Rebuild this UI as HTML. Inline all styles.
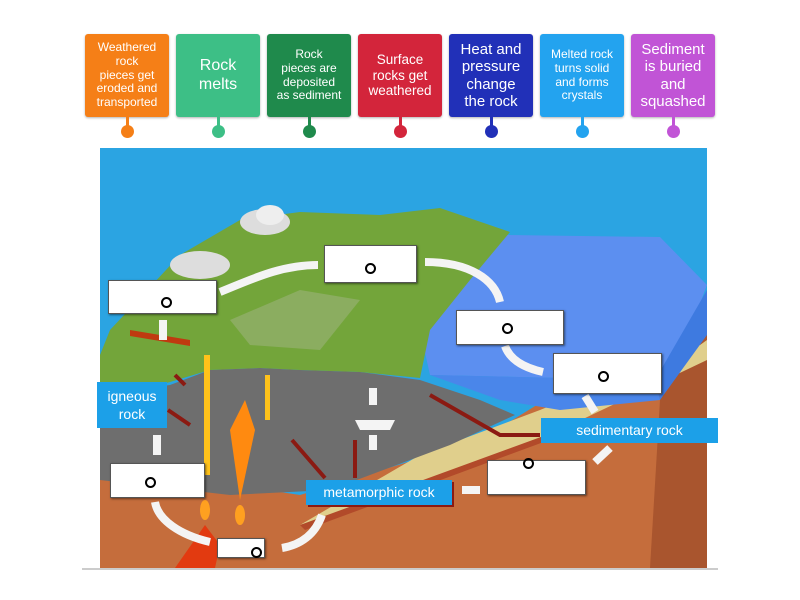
<!DOCTYPE html>
<html><head><meta charset="utf-8"><style>
body{margin:0;width:800px;height:600px;background:#fff;position:relative;overflow:hidden;font-family:"Liberation Sans",sans-serif}
.tag{position:absolute;top:34px;width:84px;height:83px;border-radius:3px;color:#fff;display:flex;align-items:center;justify-content:center;text-align:center;line-height:1.15;box-shadow:0 1px 2px rgba(0,0,0,.3);white-space:nowrap}
.stem{position:absolute;top:117px;width:3px;height:10px;margin-left:40.5px}
.dot{position:absolute;top:125px;width:13px;height:13px;border-radius:50%;margin-left:35.5px}
.box{position:absolute;background:#fff;border:1px solid #555;box-shadow:1px 1px 2px rgba(0,0,0,.5)}
.o{position:absolute;width:7px;height:7px;border:2px solid #000;border-radius:50%}
.lab{position:absolute;background:#1ca0e8;color:#fff;display:flex;align-items:center;justify-content:center;text-align:center;font-size:14px;line-height:1.3}
</style></head><body>
<div class="tag" style="left:85px;background:#f57f17;font-size:12px">Weathered<br>rock<br>pieces get<br>eroded and<br>transported</div>
<div class="tag" style="left:176px;background:#3dbf86;font-size:16px">Rock<br>melts</div>
<div class="tag" style="left:267px;background:#1f8a4c;font-size:12px">Rock<br>pieces are<br>deposited<br>as sediment</div>
<div class="tag" style="left:358px;background:#d3253b;font-size:13.5px">Surface<br>rocks get<br>weathered</div>
<div class="tag" style="left:449px;background:#2130b8;font-size:15px">Heat and<br>pressure<br>change<br>the rock</div>
<div class="tag" style="left:540px;background:#23a3ef;font-size:12px">Melted rock<br>turns solid<br>and forms<br>crystals</div>
<div class="tag" style="left:631px;background:#c154d6;font-size:15px">Sediment<br>is buried<br>and<br>squashed</div>
<div class="stem" style="left:85px;background:#f57f17"></div><div class="dot" style="left:85px;background:#f57f17"></div>
<div class="stem" style="left:176px;background:#3dbf86"></div><div class="dot" style="left:176px;background:#3dbf86"></div>
<div class="stem" style="left:267px;background:#1f8a4c"></div><div class="dot" style="left:267px;background:#1f8a4c"></div>
<div class="stem" style="left:358px;background:#d3253b"></div><div class="dot" style="left:358px;background:#d3253b"></div>
<div class="stem" style="left:449px;background:#2130b8"></div><div class="dot" style="left:449px;background:#2130b8"></div>
<div class="stem" style="left:540px;background:#23a3ef"></div><div class="dot" style="left:540px;background:#23a3ef"></div>
<div class="stem" style="left:631px;background:#c154d6"></div><div class="dot" style="left:631px;background:#c154d6"></div>

<svg style="position:absolute;left:0;top:0" width="800" height="600">
<rect x="100" y="148" width="607" height="420" fill="#2ba4e2"/>
<polygon points="100,465 300,495 480,440 707,300 707,568 100,568" fill="#c56d3c"/>
<polygon points="660,400 707,330 707,568 650,568" fill="#a9552e"/>
<polygon points="420,455 540,410 700,345 707,340 707,360 560,430 330,520 300,525" fill="#e0cf8c"/>
<polygon points="300,525 560,430 560,436 305,530" fill="#b24a2a"/>
<polygon points="505,235 660,237 707,285 690,330 655,380 430,375 420,330" fill="#5c8ff0"/>
<polygon points="655,380 707,290 707,335 660,400" fill="#3e7ae0"/>
<polygon points="430,375 655,380 660,400 560,410 500,400" fill="#4a86ea"/>
<polygon points="100,395 170,385 210,370 260,368 300,370 360,372 420,380 480,400 515,415 450,445 330,490 230,495 100,480" fill="#6e6e6e"/>
<polygon points="100,395 100,355 110,330 180,255 240,220 300,212 380,215 440,208 510,232 470,280 430,330 420,378 360,372 300,370 260,368 210,370 170,382 130,392" fill="#73a53a"/>
<polygon points="230,320 300,290 360,300 320,350 250,345" fill="#9bb27a" opacity=".6"/>
<ellipse cx="200" cy="265" rx="30" ry="14" fill="#ddd"/><ellipse cx="265" cy="222" rx="25" ry="13" fill="#ddd"/><ellipse cx="270" cy="215" rx="14" ry="10" fill="#eee"/>
<rect x="204" y="355" width="6" height="120" fill="#ffc21a"/>
<polygon points="245,400 230,430 240,500 255,430" fill="#ff8a10"/>
<rect x="265" y="375" width="5" height="45" fill="#ffc21a"/>
<polygon points="175,568 205,525 220,545 215,568" fill="#e23a10"/>
<ellipse cx="205" cy="510" rx="5" ry="10" fill="#ffa020"/><ellipse cx="240" cy="515" rx="5" ry="10" fill="#ffa020"/>
<polygon points="130,330 190,340 190,346 130,336" fill="#c03a10"/>
<g stroke="#8b1a12" stroke-width="4" fill="#8b1a12">
<line x1="325" y1="478" x2="292" y2="440"/><line x1="355" y1="478" x2="355" y2="440"/>
<polyline points="540,435 500,435 430,395" fill="none"/><line x1="185" y1="385" x2="175" y2="375"/><line x1="168" y1="410" x2="190" y2="425"/>
</g>
<g stroke="#f4f4f4" stroke-width="8" fill="none">
<path d="M220,292 C250,280 280,265 318,265"/><path d="M425,262 C470,262 495,280 500,302"/>
<path d="M505,346 C510,360 525,368 543,372"/><line x1="585" y1="396" x2="595" y2="412"/>
<line x1="610" y1="448" x2="595" y2="462"/><line x1="480" y1="490" x2="462" y2="490"/>
<path d="M322,515 C315,535 300,545 282,548"/><path d="M210,542 C180,535 158,520 155,502"/>
<line x1="163" y1="340" x2="163" y2="320"/><line x1="157" y1="455" x2="157" y2="435"/>
<line x1="373" y1="405" x2="373" y2="388"/><line x1="373" y1="450" x2="373" y2="435"/>
</g>
<polygon points="355,420 395,420 390,430 360,430" fill="#f4f4f4"/>
<line x1="82" y1="569" x2="718" y2="569" stroke="#ccc" stroke-width="2"/>
</svg>

<div class="box" style="left:108px;top:280px;width:107px;height:32px"></div><div class="o" style="left:161px;top:297px"></div>
<div class="box" style="left:324px;top:245px;width:91px;height:36px"></div><div class="o" style="left:365px;top:263px"></div>
<div class="box" style="left:456px;top:310px;width:106px;height:33px"></div><div class="o" style="left:502px;top:323px"></div>
<div class="box" style="left:553px;top:353px;width:107px;height:39px"></div><div class="o" style="left:598px;top:371px"></div>
<div class="box" style="left:487px;top:460px;width:97px;height:33px"></div><div class="o" style="left:523px;top:458px"></div>
<div class="box" style="left:110px;top:463px;width:93px;height:33px"></div><div class="o" style="left:145px;top:477px"></div>
<div class="box" style="left:217px;top:538px;width:46px;height:18px"></div><div class="o" style="left:251px;top:547px"></div>

<div class="lab" style="left:97px;top:382px;width:70px;height:46px">igneous<br>rock</div>
<div class="lab" style="left:541px;top:418px;width:177px;height:25px">sedimentary rock</div>
<div class="lab" style="left:306px;top:480px;width:146px;height:25px;box-shadow:2px 2px 0 #8b1a12">metamorphic rock</div>
</body></html>
